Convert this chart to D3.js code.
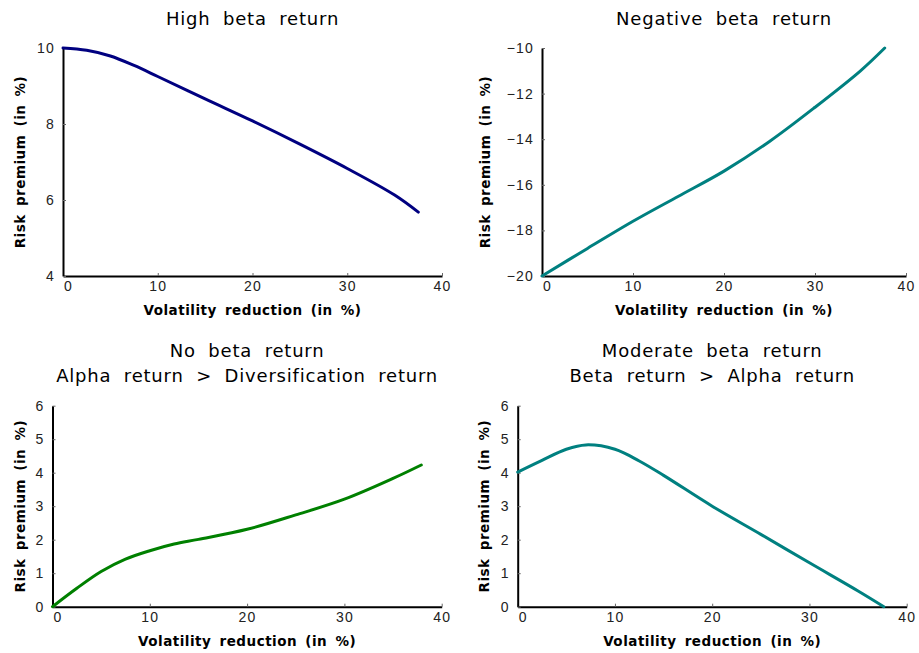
<!DOCTYPE html>
<html>
<head>
<meta charset="utf-8">
<script src="https://cdn.jsdelivr.net/npm/d3@7"></script>
<style>
  body { margin: 0; background: #fff; }
  svg text { fill: #000; }
  .tick text { font-family: "Liberation Sans", Arial, sans-serif; font-size: 14px; letter-spacing: 1.2px; fill: #222; }
  .title { font-family: "DejaVu Sans", sans-serif; font-size: 18px; letter-spacing: 0.8px; word-spacing: 6px; }
  .axlabel { font-family: "DejaVu Sans", sans-serif; font-size: 13.5px; font-weight: bold; letter-spacing: 0.5px; word-spacing: 3px; }
</style>
</head>
<body>
<svg width="919" height="653"></svg>
<script>
// values (x = volatility reduction in %)
var xHigh = [0, 2.5, 5, 7.5, 10, 15, 20, 25, 30, 35, 37.5];
var yHigh = [10, 9.94, 9.79, 9.54, 9.25, 8.66, 8.08, 7.47, 6.83, 6.13, 5.68];

var xNeg = [0, 5, 10, 15, 20, 25, 30, 35, 37.66];
var yNeg = [-20, -18.79, -17.6, -16.5, -15.4, -14.1, -12.6, -11.0, -10];

var xNo = [0, 2.5, 5, 7.5, 10, 12.5, 15, 20, 25, 30, 35, 37.9];
var yNo = [0, 0.55, 1.05, 1.42, 1.67, 1.87, 2.01, 2.31, 2.74, 3.21, 3.83, 4.23];

var xMod = [0, 2.5, 5, 7, 10, 12.5, 15, 20, 25, 30, 35, 37.65];
var yMod = [4.02, 4.37, 4.70, 4.83, 4.70, 4.35, 3.92, 3.00, 2.16, 1.31, 0.47, 0];

var ticksHigh = [4, 6, 8, 10];
var ticksNeg = [-20, -18, -16, -14, -12, -10];
var ticks06 = [0, 1, 2, 3, 4, 5, 6];
var xTicks = [0, 10, 20, 30, 40];

var svg = d3.select('svg');

var panels = [
    {title: ['High beta return'], xs: xHigh, ys: yHigh, yDom: [4, 10], yTicks: ticksHigh,
     color: '#000080', x0: 63, x1: 442, y0: 276, y1: 48, titleY: [25], labX: 20},
    {title: ['Negative beta return'], xs: xNeg, ys: yNeg, yDom: [-20, -10], yTicks: ticksNeg,
     color: '#008080', x0: 542, x1: 906, y0: 276, y1: 48, titleY: [25], labX: 485},
    {title: ['No beta return', 'Alpha return > Diversification return'], xs: xNo, ys: yNo, yDom: [0, 6], yTicks: ticks06,
     color: '#008000', x0: 52.5, x1: 441.7, y0: 606.7, y1: 405.7, titleY: [357, 382], labX: 20},
    {title: ['Moderate beta return', 'Beta return > Alpha return'], xs: xMod, ys: yMod, yDom: [0, 6], yTicks: ticks06,
     color: '#008080', x0: 517.7, x1: 906.7, y0: 606.7, y1: 405.7, titleY: [357, 382], labX: 484}
];

panels.forEach(function(p) {
    var xScale = d3.scaleLinear().domain([0, 40]).range([p.x0, p.x1]);
    var yScale = d3.scaleLinear().domain(p.yDom).range([p.y0, p.y1]);

    var xAxis = d3.axisBottom(xScale)
        .tickValues(xTicks)
        .tickSizeInner(-3)
        .tickSizeOuter(0)
        .tickPadding(7);

    var yAxis = d3.axisLeft(yScale)
        .tickValues(p.yTicks)
        .tickSizeInner(-3)
        .tickSizeOuter(0)
        .tickPadding(8)
        .tickFormat(function(d) { return d < 0 ? '\u2212' + Math.abs(d) : d; });

    var gx = svg.append('g')
        .attr('transform', 'translate(0,' + p.y0 + ')')
        .call(xAxis);
    gx.selectAll('.tick text').attr('dy', '0.6em')
        .filter(function(d) { return d === 0; })
        .attr('x', 5);

    var gy = svg.append('g')
        .attr('transform', 'translate(' + p.x0 + ',0)')
        .call(yAxis);

    [gx, gy].forEach(function(g) {
        g.select('.domain').attr('stroke', '#000').attr('stroke-width', 2);
        g.selectAll('.tick line').attr('stroke', '#666').attr('stroke-width', 1);
        g.attr('font-family', null).attr('font-size', null);
    });

    var pts = p.xs.map(function(x, i) { return [x, p.ys[i]]; });
    var line = d3.line()
        .x(function(d) { return xScale(d[0]); })
        .y(function(d) { return yScale(d[1]); })
        .curve(d3.curveCatmullRom.alpha(0.5));

    svg.append('path')
        .datum(pts)
        .attr('d', line)
        .attr('fill', 'none')
        .attr('stroke', p.color)
        .attr('stroke-width', 3)
        .attr('stroke-linecap', 'round')
        .attr('stroke-linejoin', 'round');

    var cx = (p.x0 + p.x1) / 2;
    p.title.forEach(function(t, i) {
        svg.append('text')
            .attr('class', 'title')
            .attr('x', cx)
            .attr('y', p.titleY[i])
            .attr('text-anchor', 'middle')
            .text(t);
    });

    svg.append('text')
        .attr('class', 'axlabel')
        .attr('x', cx)
        .attr('y', p.y0 + 39)
        .attr('text-anchor', 'middle')
        .text('Volatility reduction (in %)');

    svg.append('text')
        .attr('class', 'axlabel')
        .attr('transform', 'translate(' + (p.labX + 5) + ',' + ((p.y0 + p.y1) / 2) + ') rotate(-90)')
        .attr('text-anchor', 'middle')
        .text('Risk premium (in %)');
});
</script>
</body>
</html>
